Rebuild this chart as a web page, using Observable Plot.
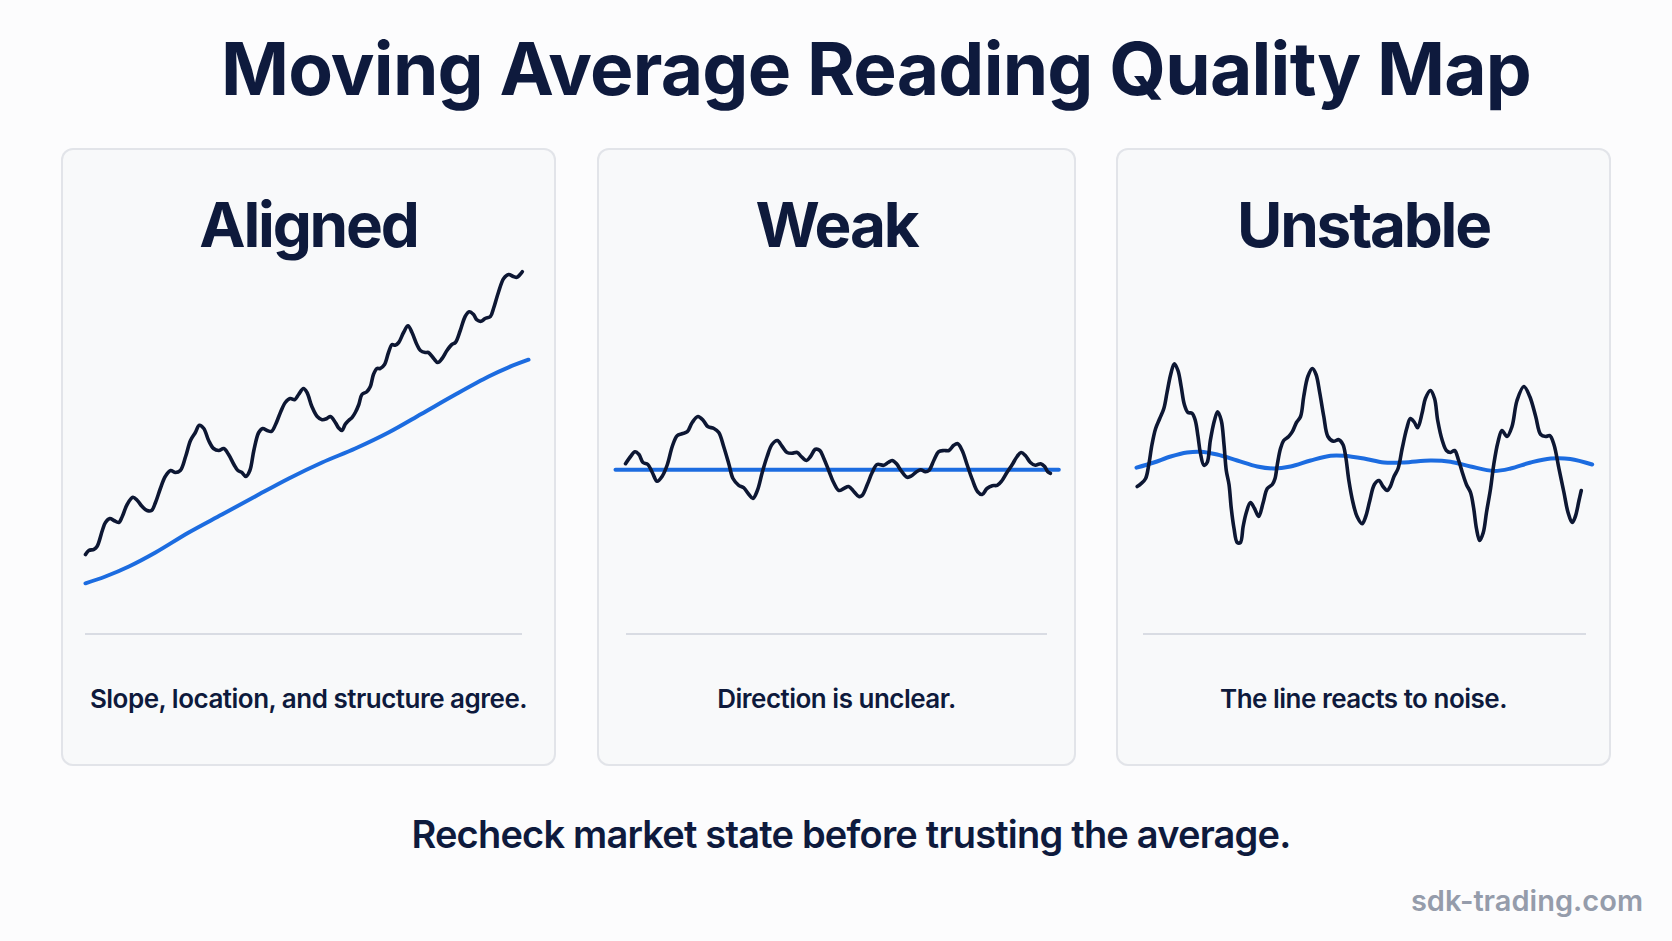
<!DOCTYPE html>
<html>
<head>
<meta charset="utf-8">
<script src="https://cdn.jsdelivr.net/npm/d3@7"></script>
<script src="https://cdn.jsdelivr.net/npm/@observablehq/plot@0.6"></script>
<style>
  html, body { margin: 0; padding: 0; }
  body { width: 1672px; height: 941px; background: #fcfcfd; position: relative; overflow: hidden;
         font-family: Inter, "Noto Sans", sans-serif; color: #0e1a3c; }
  .abs { position: absolute; white-space: nowrap; line-height: 1; }
  .panel { position: absolute; top: 148px; height: 618px; background: #f8f9fa; border-radius: 12px;
           box-shadow: inset 0 0 0 2px #e2e4e9; }
  .ptitle { position: absolute; left: 0; right: 0; top: 46px; text-align: center; font-size: 62px;
            font-weight: 700; line-height: 1; letter-spacing: -2.2px; }
  .chart { position: absolute; left: 0; top: 72px; }
  .divider { position: absolute; top: 485px; height: 2px; background: #d9dce3; }
  .note { position: absolute; left: 0; right: 0; top: 538px; text-align: center; font-size: 26px;
          font-weight: 600; line-height: 1; letter-spacing: -0.5px; }
</style>
</head>
<body>
<script>
// ---------- data ----------
const chartTitle = "Moving Average Reading Quality Map";
const footerNote = "Recheck market state before trusting the average.";
const watermark = "sdk-trading.com";
const panelTitles = ["Aligned", "Weak", "Unstable"];
const panelNotes = ["Slope, location, and structure agree.", "Direction is unclear.", "The line reacts to noise."];

// [time, price]
const alignedPrice = [[0,16.5],[0.75,17.5],[1.9,17.8],[2.6,18.5],[3.8,22.5],[4.5,24.5],[5.5,25.5],[6.4,25],[7.5,24.5],[8.3,26],[9.4,29],[10.7,30.8],[11.7,30],[12.8,28.5],[13.9,27.5],[14.9,27.5],[15.8,29.5],[16.9,33],[18.0,36],[19.2,37.5],[20.3,37],[21.4,37.5],[22.6,41],[23.7,45],[24.8,47],[25.7,48.8],[26.7,48],[27.8,45],[28.9,43],[30.1,42.5],[31.2,43],[32.3,41.5],[33.5,39],[34.4,37.5],[35.3,37],[36.2,36],[37.1,37.5],[38.0,42.5],[39.1,47],[40.0,48],[41.0,47.5],[42.0,47.3],[42.9,49],[44.0,52],[45.1,54.5],[46.2,55.5],[47.2,55.2],[48.1,56.5],[49.2,58],[50.0,57],[51.1,53.5],[52.3,51],[53.4,50.2],[54.5,50.5],[55.3,51],[56.4,49.5],[57.1,48.2],[57.9,47.5],[58.6,49],[59.4,50],[60.2,50.8],[60.9,52],[61.7,54],[62.4,56.5],[63.5,57.2],[64.3,58.5],[65.0,61.5],[65.8,63],[66.5,63],[67.5,64],[68.4,67],[69.2,69],[69.9,68.8],[70.7,69.5],[71.8,72],[72.8,73.7],[73.7,72],[74.8,69],[75.6,67.5],[76.7,67],[77.4,67],[78.6,65.5],[79.5,64.5],[80.5,65.5],[81.6,67.5],[82.7,69],[83.5,69.5],[84.6,72.5],[85.7,76],[86.6,77.2],[87.6,76.5],[88.3,75.2],[89.3,74.8],[90.2,75.5],[91.4,76],[92.1,78],[93.2,82],[94.4,85.5],[95.5,86.5],[96.6,86],[97.4,85.8],[98.1,86.5],[98.6,87.2]];
const alignedAverage = [[0,9.3],[4.5,11],[9.8,13.5],[15.8,17],[23.3,22],[30.8,26.5],[38.3,31],[45.9,35.5],[53.4,39.5],[60.9,43],[68.4,47],[75.9,51.7],[83.5,56.5],[91.0,61],[95.5,63.3],[100,65.2]];

const weakPrice = [[2.26,39.2],[3.4,41],[4.4,42.2],[5.3,41.5],[6.2,39.5],[7.3,39],[8.3,37],[9.4,34.8],[10.5,36],[11.7,39],[12.8,43.5],[13.9,46.2],[15.0,46.7],[16.2,47.2],[17.3,49.5],[18.6,51],[19.8,50],[20.8,48.5],[22.2,48],[23.3,47],[24.4,43.5],[25.6,39],[26.5,35.5],[27.8,33.8],[28.9,33.2],[30.1,31.5],[31.0,30.5],[32.0,32.5],[33.1,37],[34.2,41],[35.3,44],[36.5,45],[37.6,43.5],[38.7,42],[39.8,41.8],[41.0,42],[41.9,41],[43.1,40],[44.0,41],[45.1,42.8],[46.1,42.5],[47.0,40.5],[48.1,37.5],[49.2,34.5],[50.4,32.5],[51.5,33],[52.6,33.5],[53.8,32.2],[54.9,31],[55.6,31.2],[56.8,34],[57.9,37],[59.0,39],[60.5,38.8],[61.5,39.5],[62.4,40],[63.4,39.2],[64.4,37.5],[65.8,35.8],[66.8,36.2],[67.7,37],[68.8,37.7],[69.9,37.2],[70.7,37.5],[71.8,40],[72.9,42.2],[74.1,42.5],[75.2,42.5],[76.3,43.8],[77.2,44.2],[78.2,42.5],[79.3,39],[80.5,35.2],[81.7,32.2],[82.7,31.5],[83.8,33],[85.0,33.7],[86.1,33.8],[87.2,35],[88.3,37],[89.5,39],[90.6,41],[91.5,42],[92.5,41.2],[93.6,39.5],[94.7,38.8],[95.9,39.2],[96.8,38.5],[97.5,37.2],[98.1,36.8]];
const weakAverage = [[0,37.7],[50,37.7],[100,37.7]];

const unstablePrice = [[0.15,33.5],[1.0,34.2],[2.0,35.5],[2.7,39],[3.4,44],[4.2,48],[5.1,50.5],[6.0,53],[6.7,57],[7.5,61.5],[8.3,64.2],[9.1,62.5],[9.8,58.5],[10.5,54],[11.3,52],[12.2,51.8],[12.9,50],[13.5,46],[14.0,42],[14.8,38.8],[15.5,39.5],[16.2,45],[17.1,50],[17.8,52.2],[18.6,50],[19.2,44],[19.7,37.5],[20.3,34],[20.8,28],[21.4,23],[22.1,19.5],[22.8,19.5],[23.4,23.5],[24.1,27],[25.0,29.5],[25.9,28],[26.8,26],[27.8,29.5],[28.7,33],[29.8,34],[30.4,35.5],[30.9,39],[31.6,43],[32.3,45],[33.4,46],[34.2,47.2],[35.1,49.5],[36.0,51],[36.7,56],[37.6,61],[38.6,63],[39.4,61.5],[40.2,57],[41.1,51],[42.0,46],[43.2,44.8],[44.4,45.2],[45.3,44],[45.9,41],[46.6,35],[47.5,29.5],[48.4,26],[49.5,24.2],[50.3,26],[51.2,30],[52.2,34],[53.2,35],[54.1,33.5],[55.0,32.5],[55.7,33.5],[56.5,36],[57.4,38],[58.3,43],[59.3,48],[60.1,50.5],[61.0,49.5],[61.7,48.2],[62.7,52],[63.4,55.5],[64.5,57.5],[65.4,55.5],[66.1,50],[67.1,45],[68.0,42.5],[68.9,42],[69.8,42.5],[70.7,40],[71.5,37],[72.4,34],[73.3,32],[74.0,28],[74.6,23],[75.3,20],[76.1,22],[76.8,27],[77.7,33],[78.4,39],[79.3,44.5],[80.2,47.5],[81.3,46],[82.4,48.5],[83.5,55],[85.0,58.5],[86.3,56],[87.6,51],[88.7,46.5],[89.8,46],[90.7,46.2],[91.6,44],[92.7,38],[93.8,32],[94.7,27],[95.6,24.5],[96.3,26],[97.1,30],[97.6,32.5]];
const unstableAverage = [[0,38.2],[3.8,39.5],[7.5,41],[11.1,42],[14.0,42.2],[17.7,41.5],[22.1,40],[26.5,38.5],[30.1,38],[33.8,38.5],[38.2,40],[42.6,41.2],[45.5,41.2],[49.9,40.5],[54.3,39.5],[58.7,39.5],[64.5,40],[68.9,39.7],[73.3,38.5],[78.4,37.4],[82.1,38],[86.5,39.5],[90.9,40.5],[95.2,40.4],[100,39]];

const priceSeries = [alignedPrice, weakPrice, unstablePrice];
const averageSeries = [alignedAverage, weakAverage, unstableAverage];

// ---------- layout ----------
const panelBoxes = [
  {left: 61, width: 495, ml: 24, mr: 28, dl: 24, dw: 437},
  {left: 597, width: 479, ml: 18, mr: 17.7, dl: 29, dw: 421},
  {left: 1116, width: 495, ml: 20, mr: 19.3, dl: 27, dw: 443}
];
const priceColor = "#0d1733";
const averageColor = "#1c6ce0";

function addText(txt, css) {
  const d = document.createElement("div");
  d.className = "abs";
  d.textContent = txt;
  Object.assign(d.style, css);
  document.body.appendChild(d);
  return d;
}

addText(chartTitle, {left: "76px", width: "1600px", textAlign: "center", top: "32px",
  fontSize: "73px", fontWeight: "700", color: "#0e1a3d", letterSpacing: "-0.75px"});

panelTitles.forEach((t, i) => {
  const b = panelBoxes[i];
  const p = document.createElement("div");
  p.className = "panel";
  p.style.left = b.left + "px";
  p.style.width = b.width + "px";
  const h = document.createElement("div");
  h.className = "ptitle";
  h.textContent = t;
  p.appendChild(h);

  const chart = Plot.plot({
    width: b.width,
    height: 400,
    marginLeft: b.ml,
    marginRight: b.mr,
    marginTop: 0,
    marginBottom: 0,
    x: {domain: [0, 100], axis: null},
    y: {domain: [0, 100], axis: null},
    style: {background: "transparent", overflow: "visible"},
    marks: [
      Plot.line(averageSeries[i], {x: d => d[0], y: d => d[1], stroke: averageColor, strokeWidth: 4,
        curve: "catmull-rom", strokeLinecap: "round", strokeLinejoin: "round"}),
      Plot.line(priceSeries[i], {x: d => d[0], y: d => d[1], stroke: priceColor, strokeWidth: 3.6,
        curve: "catmull-rom", strokeLinecap: "round", strokeLinejoin: "round"})
    ]
  });
  chart.classList.add("chart");
  p.appendChild(chart);

  const dv = document.createElement("div");
  dv.className = "divider";
  dv.style.left = b.dl + "px";
  dv.style.width = b.dw + "px";
  p.appendChild(dv);

  const n = document.createElement("div");
  n.className = "note";
  n.textContent = panelNotes[i];
  p.appendChild(n);
  document.body.appendChild(p);
});

addText(footerNote, {left: "51px", width: "1600px", textAlign: "center", top: "815px",
  fontSize: "38px", fontWeight: "600", color: "#0e1a3d", letterSpacing: "-0.8px"});
addText(watermark, {right: "29px", top: "886px", fontSize: "29px", fontWeight: "600", color: "#959cab"});
</script>
</body>
</html>
